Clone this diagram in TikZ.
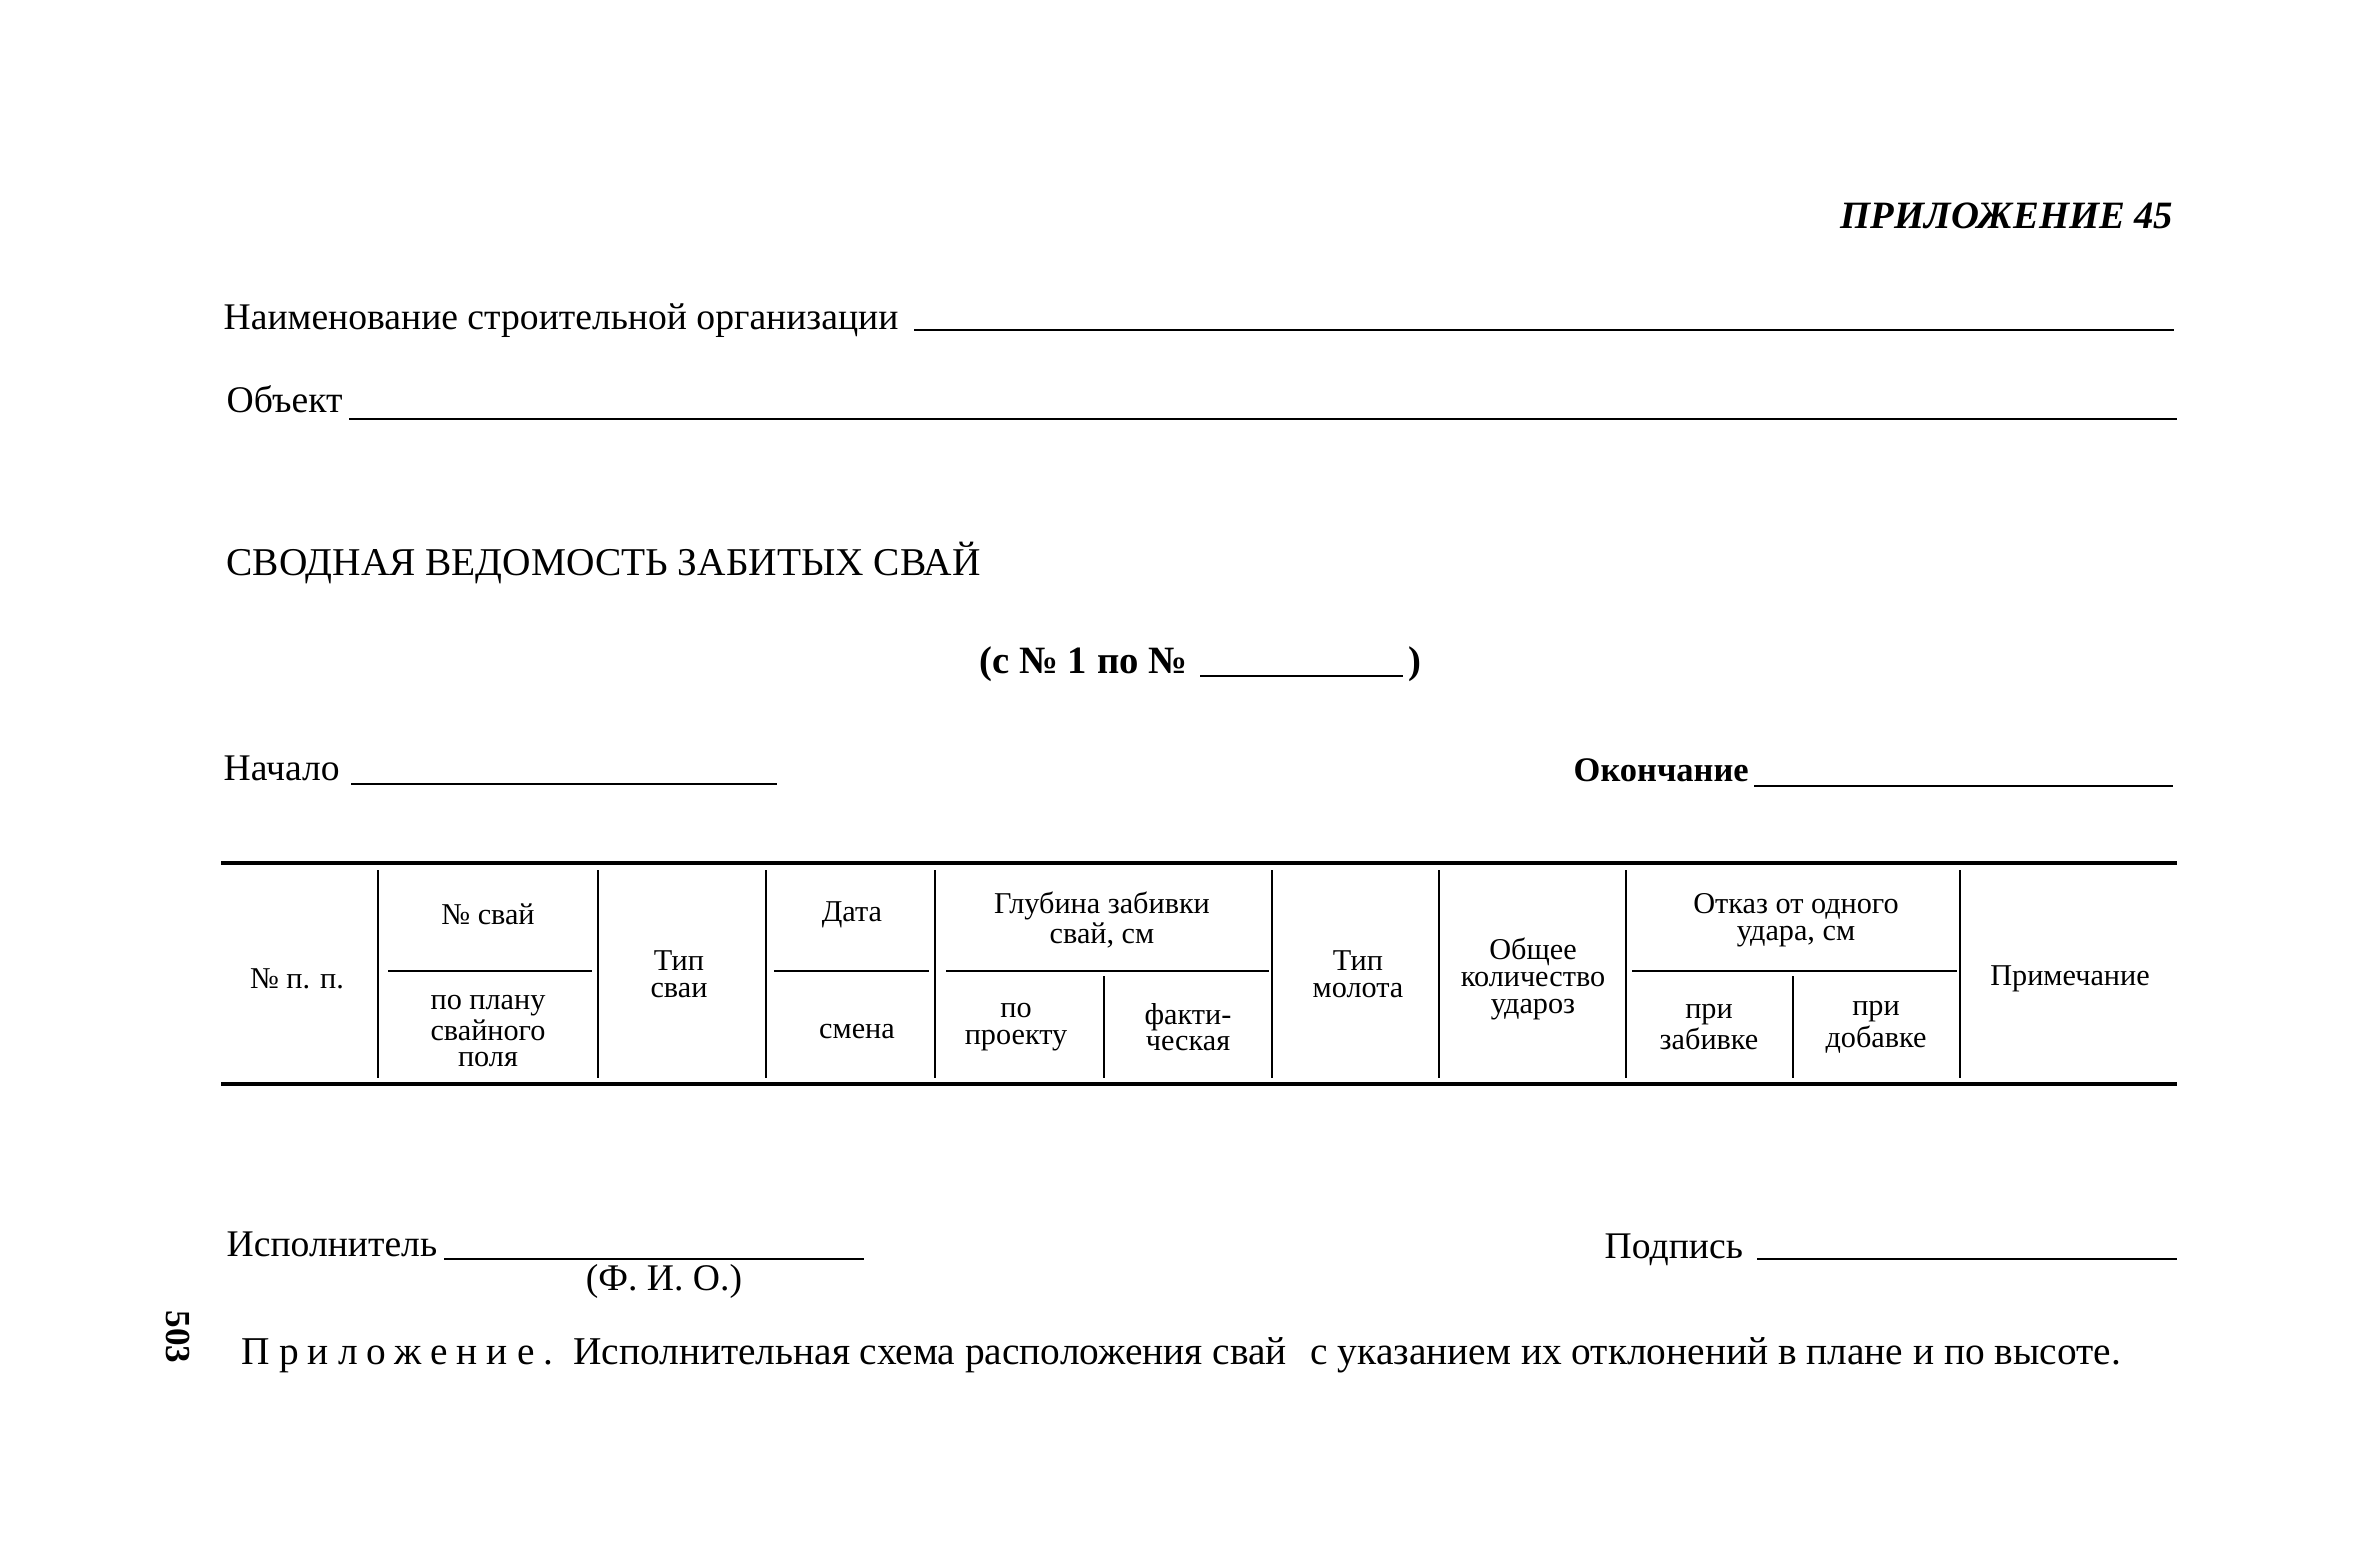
\documentclass[tikz,border=0pt]{standalone}
\usepackage{fontspec}
\setmainfont{Liberation Serif}
\begin{document}
\begin{tikzpicture}[x=0.01cm,y=-0.01cm,
  txt/.style={inner sep=0pt, font=\fontsize{10.7}{12}\selectfont},
  cell/.style={inner sep=0pt, align=center, font=\fontsize{8.6}{7.6}\selectfont},
  rule/.style={line width=0.6pt},
  heavy/.style={line width=1.1pt},
  vline/.style={line width=0.8pt}]
\useasboundingbox (0,0) rectangle (2361,1559);

% header
\node[txt, anchor=base east, font=\fontsize{11}{12}\selectfont\bfseries\itshape] (app) at (2174,228) {ПРИЛОЖЕНИЕ 45};

\node[txt, anchor=base west] (org) at (223,329) {Наименование строительной организации};
\draw[rule] (914,330) -- (2174,330);
\node[txt, anchor=base west] (obj) at (226,412) {Объект};
\draw[rule] (349,419) -- (2177,419);

\node[txt, anchor=base west, font=\fontsize{11.2}{13}\selectfont] (title) at (226,575) {СВОДНАЯ ВЕДОМОСТЬ ЗАБИТЫХ СВАЙ};

\node[txt, anchor=base west, font=\fontsize{11}{12}\selectfont\bfseries] (range) at (979,673) {(с № 1 по №};
\draw[rule] (1200,676) -- (1403,676);
\node[txt, anchor=base west, font=\fontsize{11}{12}\selectfont\bfseries] (rangeend) at (1408,673) {)};

\node[txt, anchor=base west] (start) at (223,780) {Начало};
\draw[rule] (351,784) -- (777,784);
\node[txt, anchor=base west, font=\fontsize{9.8}{12}\selectfont\bfseries] (end) at (1573,781) {Окончание};
\draw[rule] (1754,786) -- (2173,786);

% table rules
\draw[heavy] (221,863) -- (2177,863);
\draw[heavy] (221,1084) -- (2177,1084);
\foreach \xx in {378,598,766,935,1272,1439,1626,1960}
  \draw[vline] (\xx,870) -- (\xx,1078);
\foreach \xx in {1104,1793}
  \draw[vline] (\xx,976) -- (\xx,1078);
\draw[rule] (388,971) -- (592,971);
\draw[rule] (774,971) -- (929,971);
\draw[rule] (946,971) -- (1269,971);
\draw[rule] (1632,971) -- (1957,971);

% table texts
\node[cell] (c1) at (297,979) {№ п. п.};
\node[cell] (c2a) at (488,914) {№ свай};
\node[cell] (c2b) at (488,1031) {по плану\\свайного\\поля};
\node[cell] (c3) at (679,974) {Тип\\сваи};
\node[cell] (c4a) at (852,915) {Дата};
\node[cell] (c4b) at (857,1031) {смена};
\node[cell] (c5) at (1102,920) {Глубина забивки\\свай, см};
\node[cell] (c5a) at (1016,1027) {по\\проекту};
\node[cell] (c5b) at (1188,1027) {факти-\\ческая};
\node[cell] (c6) at (1358,974) {Тип\\молота};
\node[cell] (c7) at (1533,979) {Общее\\количество\\удароз};
\node[cell] (c8) at (1796,920) {Отказ от одного\\удара, см};
\node[cell] (c8a) at (1709,1027) {при\\забивке};
\node[cell] (c8b) at (1876,1027) {при\\добавке};
\node[cell] (c9) at (2070,979) {Примечание};

% footer
\node[txt, anchor=base west] (exec) at (226,1256) {Исполнитель};
\draw[rule] (444,1259) -- (864,1259);
\node[txt] (fio) at (664,1281) {(Ф. И. О.)};
\node[txt, anchor=base west] (sign) at (1604,1258) {Подпись};
\draw[rule] (1757,1259) -- (2177,1259);

\node[txt, rotate=-90, font=\fontsize{10}{12}\selectfont\bfseries] (page) at (178,1337) {503};
\node[txt, anchor=base west, font=\fontsize{11.2}{13}\selectfont] (note) at (241,1364) {{\addfontfeatures{LetterSpace=23}Приложение.}\hspace{0.5em}Исполнительная схема расположения свай\hspace{0.6em}с указанием их отклонений в плане и по высоте.};
\end{tikzpicture}
\end{document}
